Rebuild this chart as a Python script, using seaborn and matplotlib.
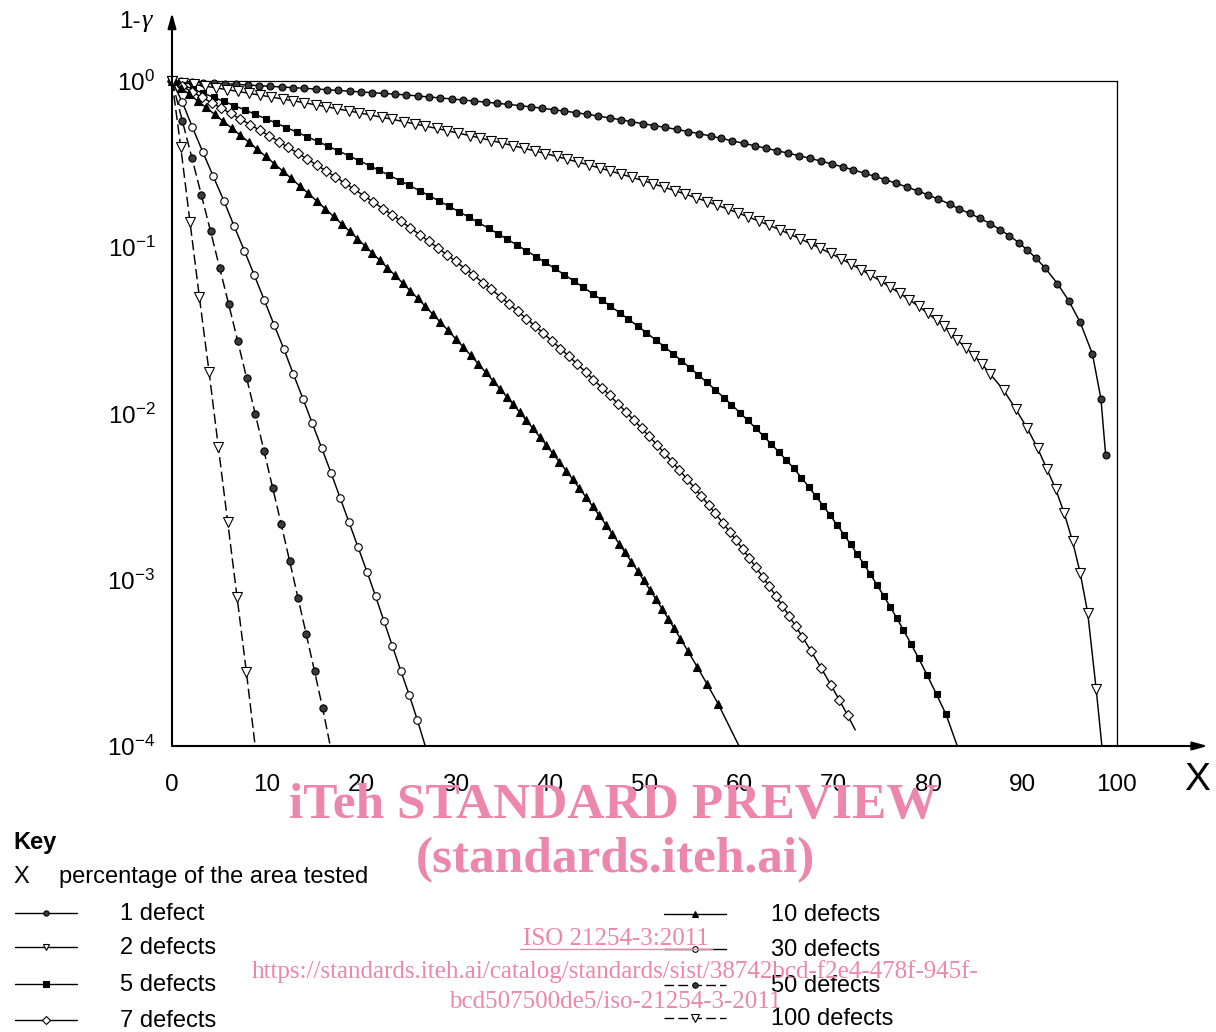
import numpy as np
import matplotlib
matplotlib.use("Agg")
import matplotlib.pyplot as plt
import seaborn as sns
from matplotlib.ticker import NullLocator, FixedLocator

# ---------------- data (x = % of area tested, lg = log10(1-gamma)) -------------
x_1 = [0, 1.0, 2.1, 3.3, 4.4, 5.6, 6.8, 8.0, 9.2, 10.4, 11.6, 12.8, 14.0, 15.2, 16.4, 17.6, 18.8, 20.0, 21.2, 22.4,
       23.6, 24.8, 26.0, 27.2, 28.4, 29.6, 30.8, 32.0, 33.2, 34.4, 35.6, 36.8, 38.0, 39.2, 40.4, 41.5, 42.7, 43.9,
       45.1, 46.3, 47.5, 48.6, 49.8, 51.0, 52.2, 53.4, 54.6, 55.8, 57.0, 58.1, 59.3, 60.5, 61.7, 62.9, 64.0, 65.2,
       66.4, 67.5, 68.7, 69.8, 71.0, 72.1, 73.3, 74.4, 75.5, 76.6, 77.8, 78.9, 80.0, 81.1, 82.3, 83.3, 84.4, 85.5,
       86.6, 87.6, 88.6, 89.6, 90.5, 91.4, 92.4, 93.7, 94.9, 96.1, 97.4, 98.3, 98.8]
lg_1 = [0, -0.003, -0.006, -0.010, -0.013, -0.016, -0.020, -0.024, -0.028, -0.032, -0.036, -0.040, -0.044, -0.048,
        -0.052, -0.057, -0.061, -0.066, -0.070, -0.075, -0.079, -0.084, -0.090, -0.096, -0.102, -0.108, -0.114,
        -0.121, -0.127, -0.134, -0.141, -0.148, -0.156, -0.164, -0.173, -0.181, -0.190, -0.200, -0.211, -0.222,
        -0.233, -0.245, -0.256, -0.268, -0.279, -0.291, -0.304, -0.317, -0.331, -0.345, -0.360, -0.375, -0.390,
        -0.405, -0.419, -0.434, -0.450, -0.465, -0.482, -0.499, -0.517, -0.535, -0.555, -0.574, -0.594, -0.615,
        -0.638, -0.661, -0.685, -0.711, -0.740, -0.770, -0.796, -0.826, -0.858, -0.894, -0.930, -0.972, -1.016,
        -1.064, -1.125, -1.219, -1.322, -1.451, -1.642, -1.911, -2.250]

x_2 = [0, 1.2, 2.3, 3.5, 4.7, 5.8, 7.0, 8.2, 9.3, 10.5, 11.7, 12.8, 14.0, 15.2, 16.3, 17.5, 18.7, 19.8, 21.0, 22.2,
       23.3, 24.5, 25.7, 26.8, 28.0, 29.1, 30.3, 31.5, 32.6, 33.8, 34.9, 36.1, 37.2, 38.4, 39.5, 40.7, 41.8, 43.0,
       44.1, 45.3, 46.4, 47.5, 48.7, 49.8, 50.9, 52.1, 53.2, 54.3, 55.4, 56.6, 57.7, 58.8, 59.9, 61.0, 62.1, 63.2,
       64.3, 65.4, 66.5, 67.6, 68.6, 69.7, 70.8, 71.8, 72.9, 73.9, 75.0, 76.0, 77.0, 78.0, 79.0, 80.0, 80.9, 81.7,
       82.4, 83.1, 84.0, 84.9, 85.7, 86.6, 88.0, 89.3, 90.5, 91.6, 92.6, 93.5, 94.4, 95.3, 96.1, 96.9, 97.8]
lg_2 = [0, -0.0105, -0.0202, -0.0310, -0.0418, -0.0519, -0.0630, -0.0743, -0.0848, -0.0964, -0.1081, -0.1190,
        -0.1310, -0.1432, -0.1546, -0.1671, -0.1798, -0.1917, -0.2047, -0.2181, -0.2304, -0.2441, -0.2580, -0.2710,
        -0.2853, -0.2987, -0.3135, -0.3286, -0.3427, -0.3583, -0.3729, -0.3890, -0.4041, -0.4209, -0.4365, -0.4539,
        -0.4702, -0.4883, -0.5052, -0.5241, -0.5417, -0.5597, -0.5798, -0.5986, -0.6178, -0.6393, -0.6595, -0.6802,
        -0.7014, -0.7251, -0.7474, -0.7703, -0.7937, -0.8179, -0.8428, -0.8684, -0.8947, -0.9219, -0.9500, -0.9790,
        -1.0062, -1.0372, -1.0693, -1.0996, -1.1341, -1.1668, -1.2041, -1.2396, -1.2765, -1.3152, -1.3556, -1.3979,
        -1.4380, -1.4754, -1.514, -1.558, -1.604, -1.652, -1.702, -1.764, -1.859, -1.975, -2.089, -2.209, -2.336,
        -2.453, -2.597, -2.769, -2.958, -3.199, -3.66]

x_5 = [0, 1.1, 2.2, 3.3, 4.4, 5.5, 6.6, 7.7, 8.8, 9.9, 11.0, 12.1, 13.2, 14.3, 15.4, 16.5, 17.6, 18.7, 19.8, 20.9,
       21.9, 23.0, 24.1, 25.1, 26.2, 27.2, 28.3, 29.3, 30.4, 31.4, 32.4, 33.5, 34.5, 35.5, 36.5, 37.5, 38.5, 39.5,
       40.5, 41.5, 42.5, 43.5, 44.5, 45.5, 46.4, 47.4, 48.3, 49.3, 50.2, 51.2, 52.1, 53.0, 53.9, 54.8, 55.7, 56.6,
       57.5, 58.4, 59.2, 60.1, 60.9, 61.8, 62.6, 63.4, 64.2, 65.0, 65.8, 66.6, 67.4, 68.1, 68.9, 69.6, 70.4, 71.1,
       71.8, 72.5, 73.2, 73.9, 74.6, 75.3, 76.0, 76.7, 77.4, 78.2, 79.0, 79.9, 80.9, 81.9]
lg_5 = [0, -0.0240, -0.0483, -0.0729, -0.0978, -0.1229, -0.1483, -0.1740, -0.2001, -0.2264, -0.2531, -0.2801,
        -0.3074, -0.3351, -0.3632, -0.3916, -0.4204, -0.4496, -0.4792, -0.5091, -0.5368, -0.5676, -0.5988, -0.6276,
        -0.6598, -0.6894, -0.7225, -0.7530, -0.7870, -0.8185, -0.8504, -0.8860, -0.9189, -0.9523, -0.9862, -1.0207,
        -1.0557, -1.0913, -1.1275, -1.1643, -1.2018, -1.2399, -1.2786, -1.3181, -1.3543, -1.3952, -1.4327, -1.4751,
        -1.5139, -1.5580, -1.5984, -1.6395, -1.6816, -1.7244, -1.7681, -1.8127, -1.8582, -1.9047, -1.9468, -1.9952,
        -2.0392, -2.0898, -2.1359, -2.1828, -2.2308, -2.2797, -2.3300, -2.3855, -2.4431, -2.4945, -2.5547, -2.6087,
        -2.6718, -2.7279, -2.7857, -2.8449, -2.9052, -2.9670, -3.0308, -3.0958, -3.1623, -3.2315, -3.3022, -3.3854,
        -3.4712, -3.5723, -3.6895, -3.809]

x_7 = [0, 1.05, 2.1, 3.15, 4.2, 5.2, 6.2, 7.2, 8.3, 9.3, 10.3, 11.3, 12.3, 13.3, 14.3, 15.3, 16.3, 17.3, 18.3, 19.3,
       20.3, 21.3, 22.3, 23.3, 24.2, 25.2, 26.2, 27.2, 28.1, 29.1, 30.0, 31.0, 31.9, 32.9, 33.8, 34.8, 35.7, 36.6,
       37.5, 38.4, 39.3, 40.2, 41.1, 42.0, 42.9, 43.8, 44.6, 45.5, 46.3, 47.2, 48.0, 48.9, 49.7, 50.5, 51.3, 52.1,
       52.9, 53.7, 54.5, 55.3, 56.0, 56.8, 57.5, 58.3, 59.0, 59.7, 60.4, 61.1, 61.8, 62.5, 63.2, 63.9, 64.6, 65.3,
       66.0, 66.7, 67.65, 68.7, 69.7, 70.6, 71.5]
lg_7 = [0, -0.0321, -0.0645, -0.0973, -0.1305, -0.1624, -0.1946, -0.2272, -0.2634, -0.2968, -0.3305, -0.3646,
        -0.3991, -0.4339, -0.4691, -0.5048, -0.5410, -0.5775, -0.6145, -0.6519, -0.6899, -0.7282, -0.7671, -0.8065,
        -0.8424, -0.8828, -0.9237, -0.9652, -1.0030, -1.0455, -1.0843, -1.1281, -1.1680, -1.2130, -1.2541, -1.3003,
        -1.3426, -1.3854, -1.4289, -1.4730, -1.5177, -1.5632, -1.6092, -1.6560, -1.7036, -1.7519, -1.7956, -1.8453,
        -1.8903, -1.9417, -1.9880, -2.0411, -2.0892, -2.1379, -2.1874, -2.2377, -2.2889, -2.3411, -2.3941, -2.4480,
        -2.4959, -2.5517, -2.6015, -2.6592, -2.7105, -2.7630, -2.8164, -2.8705, -2.9257, -2.9821, -3.0393, -3.0976,
        -3.1573, -3.2180, -3.2796, -3.3432, -3.4312, -3.5315, -3.6303, -3.7220, -3.816]

x_10 = [0, 0.9, 1.8, 2.7, 3.6, 4.5, 5.4, 6.3, 7.2, 8.1, 9.0, 9.9, 10.8, 11.7, 12.6, 13.5, 14.4, 15.3, 16.2, 17.1,
        18.0, 18.8, 19.6, 20.4, 21.2, 22.0, 22.8, 23.6, 24.4, 25.2, 26.0, 26.8, 27.6, 28.4, 29.2, 30.0, 30.8, 31.6,
        32.4, 33.2, 34.0, 34.7, 35.4, 36.1, 36.8, 37.5, 38.2, 38.9, 39.6, 40.3, 41.0, 41.7, 42.4, 43.1, 43.8, 44.5,
        45.2, 45.9, 46.6, 47.3, 47.9, 48.6, 49.3, 49.9, 50.6, 51.2, 51.9, 52.5, 53.1, 53.8, 54.6, 55.6, 56.6, 57.8]
lg_10 = [0, -0.0392, -0.0789, -0.1189, -0.1593, -0.2000, -0.2412, -0.2826, -0.3246, -0.3668, -0.4096, -0.4528,
         -0.4964, -0.5405, -0.5850, -0.6299, -0.6753, -0.7212, -0.7676, -0.8145, -0.8619, -0.9045, -0.9475, -0.9909,
         -1.0348, -1.0791, -1.1239, -1.1692, -1.2149, -1.2611, -1.3077, -1.3550, -1.4027, -1.4510, -1.4997, -1.5490,
         -1.5990, -1.6495, -1.7007, -1.7524, -1.8046, -1.8510, -1.8978, -1.9450, -1.9929, -2.0413, -2.0902, -2.1396,
         -2.1898, -2.2404, -2.2915, -2.3434, -2.3959, -2.4490, -2.5027, -2.5572, -2.6123, -2.668, -2.7248, -2.782,
         -2.8317, -2.8906, -2.9501, -3.0017, -3.0629, -3.1159, -3.1786, -3.2333, -3.2883, -3.3537, -3.4297, -3.5265,
         -3.6254, -3.7471]

x_30 = [0, 1.1, 2.15, 3.25, 4.37, 5.5, 6.56, 7.65, 8.71, 9.76, 10.79, 11.85, 12.84, 13.86, 14.85, 15.84, 16.83,
        17.78, 18.73, 19.68, 20.63, 21.55, 22.43, 23.31, 24.2, 25.11, 25.96]
lg_30 = [0, -0.128, -0.277, -0.426, -0.574, -0.722, -0.871, -1.020, -1.168, -1.317, -1.465, -1.614, -1.763, -1.911,
         -2.060, -2.208, -2.357, -2.506, -2.654, -2.803, -2.951, -3.100, -3.249, -3.397, -3.546, -3.694, -3.843]

x_50 = [0, 1.10, 2.11, 3.10, 4.08, 5.04, 6.00, 6.95, 7.89, 8.82, 9.74, 10.65, 11.56, 12.45, 13.33, 14.21, 15.08, 15.93]
lg_50 = [0, -0.241, -0.463, -0.684, -0.904, -1.123, -1.343, -1.564, -1.785, -2.005, -2.226, -2.446, -2.667, -2.888,
         -3.108, -3.329, -3.549, -3.770]

x_100 = [0, 0.92, 1.9, 2.89, 3.92, 4.9, 5.89, 6.88, 7.87]
lg_100 = [0, -0.395, -0.846, -1.297, -1.749, -2.2, -2.651, -3.102, -3.555]

# where each line runs on beyond its last marker (x, log10 value); None = stops at last marker
line_end = {"1 defect": None, "2 defects": (98.4, -4.0), "5 defects": (83.1, -4.0), "7 defects": (72.3, -3.903),
            "10 defects": (60.0, -4.0), "30 defects": (26.8, -4.0), "50 defects": (16.75, -4.0),
            "100 defects": (8.8, -4.0)}

series_names = ["1 defect", "2 defects", "5 defects", "7 defects", "10 defects", "30 defects", "50 defects",
                "100 defects"]
series_x = [x_1, x_2, x_5, x_7, x_10, x_30, x_50, x_100]
series_lg = [lg_1, lg_2, lg_5, lg_7, lg_10, lg_30, lg_50, lg_100]

x_ticks = [0, 10, 20, 30, 40, 50, 60, 70, 80, 90, 100]
y_ticks = [1e-4, 1e-3, 1e-2, 1e-1, 1e0]
y_ticklabels = [r"$10^{-4}$", r"$10^{-3}$", r"$10^{-2}$", r"$10^{-1}$", r"$10^{0}$"]

# ---------------- styles ----------------
DASH = (0, (7, 3))
styles = {
    "1 defect":    dict(marker="o", mfc="#3a3a3a", ms=5.0, ls="-"),
    "2 defects":   dict(marker="v", mfc="white", ms=6.5, ls="-"),
    "5 defects":   dict(marker="s", mfc="black", ms=5.0, ls="-"),
    "7 defects":   dict(marker="D", mfc="white", ms=5.2, ls="-"),
    "10 defects":  dict(marker="^", mfc="black", ms=6.0, ls="-"),
    "30 defects":  dict(marker="o", mfc="white", ms=5.4, ls="-"),
    "50 defects":  dict(marker="o", mfc="#3a3a3a", ms=5.2, ls=DASH),
    "100 defects": dict(marker="v", mfc="white", ms=7.0, ls=DASH),
}

sns.set_theme(style="white")
plt.rcParams["font.family"] = ["Liberation Sans", "DejaVu Sans"]
plt.rcParams["mathtext.fontset"] = "custom"
plt.rcParams["mathtext.rm"] = "Liberation Sans"
plt.rcParams["mathtext.it"] = "Liberation Sans:italic"
plt.rcParams["mathtext.default"] = "regular"
for k in ["text.color", "axes.edgecolor", "xtick.color", "ytick.color", "axes.labelcolor"]:
    plt.rcParams[k] = "black"

W, H = 1216, 1032
fig = plt.figure(figsize=(W / 100, H / 100), dpi=100)
fig.patch.set_facecolor("white")

L, R, T, B = 172, 1117, 81, 746
ax = fig.add_axes([L / W, 1 - B / H, (R - L) / W, (B - T) / H])
ax.set_facecolor("none")
ax.set_yscale("log")

for name, xs, lgs in zip(series_names, series_x, series_lg):
    st = styles[name]
    end = line_end[name]
    lx = list(xs) + ([end[0]] if end else [])
    ly = list(lgs) + ([end[1]] if end else [])
    sns.lineplot(x=lx, y=10.0 ** np.array(ly), ax=ax, color="black", linewidth=1.05, linestyle=st["ls"],
                 marker=st["marker"], markevery=list(range(len(xs))), markersize=st["ms"],
                 markerfacecolor=st["mfc"], markeredgecolor="black", markeredgewidth=0.8,
                 estimator=None, sort=False, legend=False, clip_on=False, zorder=3)

ax.set_xlim(0, 100)
ax.set_ylim(1e-4, 1)
ax.set_xlabel("")
ax.set_ylabel("")

ax.set_xticks(x_ticks)
ax.set_xticklabels([str(v) for v in x_ticks])
ax.xaxis.set_minor_locator(FixedLocator([v for v in range(1, 100) if v % 10 != 0]))
ax.set_yticks(y_ticks)
ax.set_yticklabels(y_ticklabels)
ax.yaxis.set_minor_locator(NullLocator())
ax.tick_params(axis="x", which="major", direction="in", length=11, width=0.8, pad=20, labelsize=17.5)
ax.tick_params(axis="x", which="minor", direction="in", length=5, width=0.8)
ax.tick_params(axis="y", which="major", direction="in", length=7.5, width=0.8, pad=12, labelsize=17.5)
ax.tick_params(axis="y", which="minor", left=False)

for s in ["left", "bottom"]:
    ax.spines[s].set_visible(False)
for s in ["top", "right"]:
    ax.spines[s].set_linewidth(0.9)
    ax.spines[s].set_color("black")

arrow = dict(arrowstyle="-|>,head_length=0.9,head_width=0.25", lw=1.5, color="black",
             mutation_scale=10, shrinkA=0, shrinkB=0)
ax.annotate("", xy=(0, 10 ** 0.41), xytext=(0, 1e-4), arrowprops=arrow, annotation_clip=False)
ax.annotate("", xy=(109.6, 1e-4), xytext=(0, 1e-4), arrowprops=arrow, annotation_clip=False)

# ---------------- overlay (pixel coordinates) ----------------
ov = fig.add_axes([0, 0, 1, 1])
ov.set_xlim(0, W)
ov.set_ylim(H, 0)
ov.axis("off")
ov.set_facecolor("none")

ov.text(141, 27.5, "1-", ha="right", va="baseline", fontsize=17.5)
ov.text(142, 27.5, "\u03b3", ha="left", va="baseline", fontsize=19, family="Liberation Serif", style="italic")
ov.text(1197, 780, "X", ha="center", va="center", fontsize=28)

ov.text(13, 849, "Key", ha="left", va="baseline", fontsize=17, weight="bold")
ov.text(13, 883, "X", ha="left", va="baseline", fontsize=17)
ov.text(59, 883, "percentage of the area tested", ha="left", va="baseline", fontsize=17)

left_rows = [913, 947, 984, 1020]
right_rows = [914, 949, 985, 1018]
for i, name in enumerate(series_names):
    st = styles[name]
    if i < 4:
        x0, x1, xm, xt, yy = 15, 77, 46, 120, left_rows[i]
    else:
        x0, x1, xm, xt, yy = 664, 726, 695, 771, right_rows[i - 4]
    ov.plot([x0, x1], [yy, yy], color="black", lw=1.0, linestyle=st["ls"])
    ov.plot([xm], [yy], marker=st["marker"], ms=st["ms"] * 0.75, mfc=st["mfc"], mec="black", mew=0.8,
            linestyle="none")
    ov.text(xt, yy + 7, name, ha="left", va="baseline", fontsize=17)

# watermark of the source document
pink = "#ec86aa"
ov.text(613, 818, "iTeh STANDARD PREVIEW", ha="center", va="baseline", fontsize=37, weight="bold",
        family="Liberation Serif", color=pink)
ov.text(615, 872, "(standards.iteh.ai)", ha="center", va="baseline", fontsize=37, weight="bold",
        family="Liberation Serif", color=pink)
ov.text(616, 945, "ISO 21254-3:2011", ha="center", va="baseline", fontsize=18, family="Liberation Serif",
        color=pink)
ov.plot([520, 712], [949, 949], color=pink, lw=1.0)
ov.text(615, 978, "https://standards.iteh.ai/catalog/standards/sist/38742bcd-f2e4-478f-945f-", ha="center",
        va="baseline", fontsize=18, family="Liberation Serif", color=pink)
ov.text(615, 1008, "bcd507500de5/iso-21254-3-2011", ha="center", va="baseline", fontsize=18,
        family="Liberation Serif", color=pink)

fig.savefig("out.png", dpi=100)
